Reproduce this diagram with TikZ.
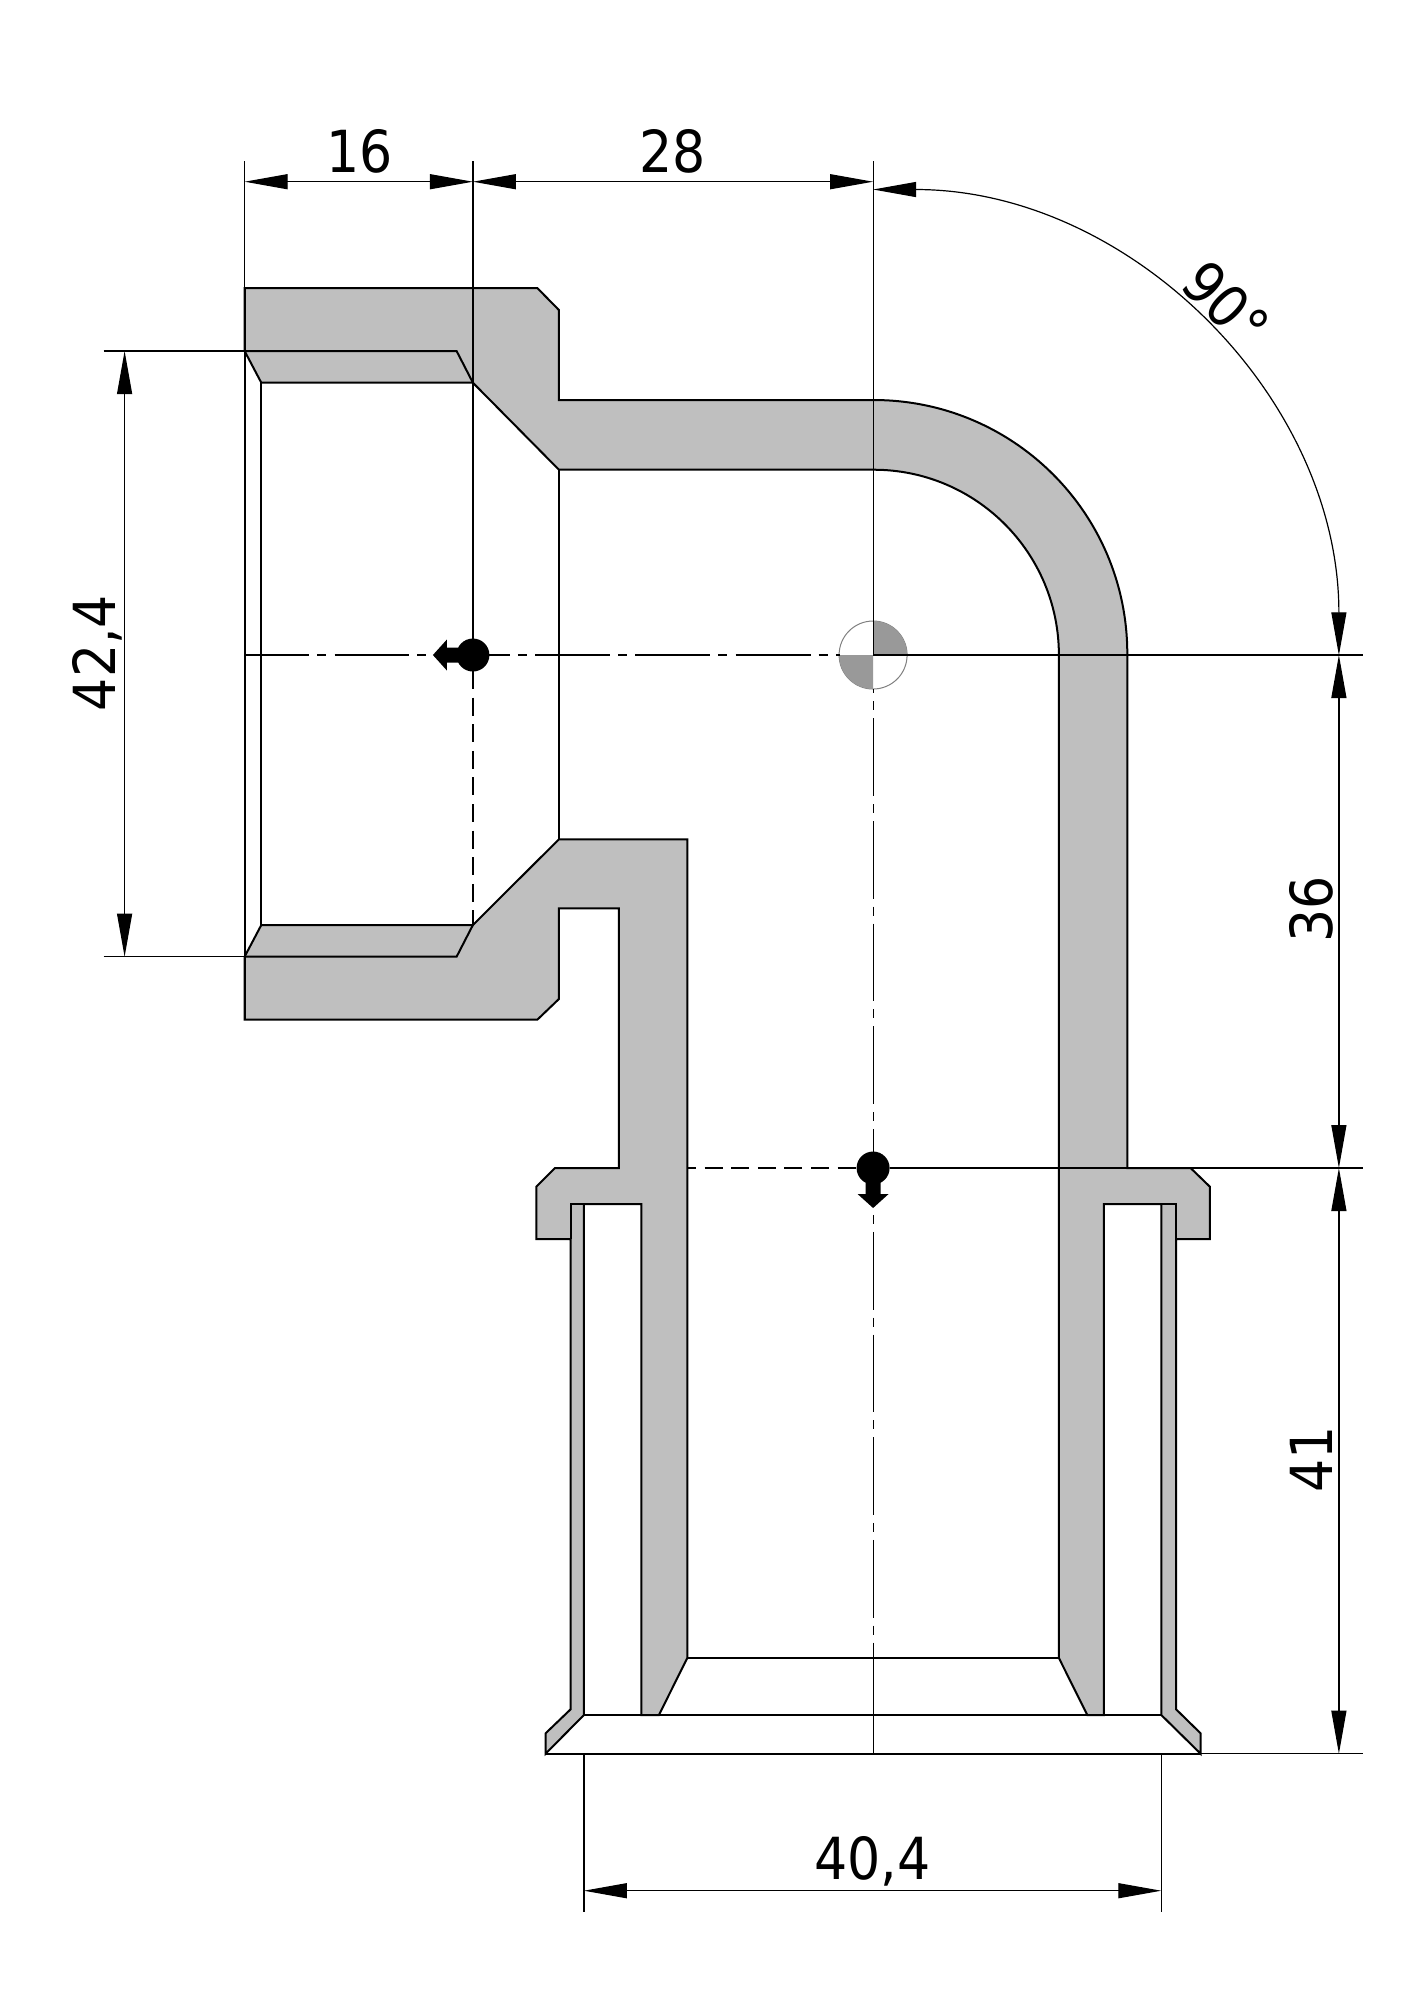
\documentclass[tikz,border=0pt]{standalone}
\usepackage{fontspec}
\setmainfont{DejaVu Sans}[FakeStretch=0.9]
\usetikzlibrary{arrows.meta}
\tikzset{
	partline/.style={line width=0.2mm, color=black},
	partfill/.style={partline, fill=black!25},
	thinline/.style={line width=0.12mm, color=black},
	dimline/.style={thinline, {Triangle[length=4.3mm,width=1.5mm]}-{Triangle[length=4.3mm,width=1.5mm]}},
	dimtext/.style={font=\fontsize{16.5}{18}\selectfont, inner sep=0pt, anchor=base},
}
% black dot with a small arrow, #3 is the direction
\def\forcemark(#1,#2)[#3]{\fill[black, shift={(#1,#2)}, rotate=#3] (0,0) circle (16.5) (0,-7.5) -- (26,-7.5) -- (26,-15.5) -- (40,0) -- (26,15.5) -- (26,7.5) -- (0,7.5) -- cycle;}

\begin{document}
\begin{tikzpicture}[x=0.1mm, y=0.1mm]
		%%%%% START %%%%%
		\useasboundingbox (-0.6, 0) rectangle (1413.4, -2000);
		
		% body with the upper socket
		\draw[partfill] (244, -288) -- (536.7, -288) -- (558.3, -310) -- (558.3, -400) -- (873, -400) arc (90:0:253.7) -- (1126.7, -1168) -- (1190, -1168) -- (1209.3, -1186.7) -- (1209.3, -1239) -- (1175.5, -1239) -- (1175.5, -1709.3) -- (1200, -1733.3) -- (1200, -1753.7) -- (1160.7, -1715) -- (1160.7, -1204) -- (1103.3, -1204) -- (1103.3, -1715) -- (1086.7, -1715) -- (1058.3, -1658) -- (1058.3, -655) arc (0:90:185.3) -- (558.3, -469.7) -- (472.3, -382.7) -- (260.7, -382.7) -- (244, -351) -- cycle;
		
		% lower part
		\draw[partfill] (244, -956.7) -- (260.7, -925) -- (472.3, -925) -- (558.3, -839.3) -- (686.7, -839.3) -- (686.7, -1658) -- (658.3, -1715) -- (640.7, -1715) -- (640.7, -1204) -- (583.3, -1204) -- (583.3, -1715) -- (545, -1753.7) -- (545, -1733.3) -- (570, -1709.3) -- (570, -1239) -- (535.7, -1239) -- (535.7, -1186.7) -- (554.3, -1168) -- (618.3, -1168) -- (618.3, -908.3) -- (558.3, -908.3) -- (558.3, -999) -- (536.7, -1019.7) -- (244, -1019.7) -- cycle;
		
		% edges seen through the bore
		\draw[partline] (244, -288) -- (244, -1019.7);
		\draw[partline] (260.7, -382.7) -- (260.7, -925);
		\draw[partline] (558.3, -469.7) -- (558.3, -839.3);
		\draw[partline] (244, -351) -- (456, -351) -- (472.3, -382.7);
		\draw[partline] (244, -956.7) -- (456, -956.7) -- (472.3, -925);
		\draw[partline] (686.7, -1658) -- (1058.3, -1658);
		\draw[partline] (583.3, -1715) -- (1160.7, -1715);
		\draw[partline] (545, -1753.7) -- (1200, -1753.7);
		
		% sleeve edges under the collars
		\draw[partline] (570, -1239) -- (570, -1204) -- (583.3, -1204);
		\draw[partline] (1175.5, -1239) -- (1175.5, -1204) -- (1160.7, -1204);
		
		% centre symbol
		\draw[line width=0.1mm, color=black!50] (872.5, -655) circle (34);
		\fill[black!40] (872.5, -655) -- (872.5, -621) arc (90:0:34) -- cycle;
		\fill[black!40] (872.5, -655) -- (872.5, -689) arc (270:180:34) -- cycle;
		
		% centre lines
		\draw[thinline, dash pattern=on 7.5mm off 0.8mm on 0.9mm off 0.83mm, dash phase=1.04mm] (244, -655) -- (839, -655);
		\draw[thinline] (872.5, -655) -- (1362, -655);
		\draw[thinline] (872.5, -161) -- (872.5, -655);
		\draw[thinline, dash pattern=on 7.77mm off 0.8mm on 0.9mm off 0.8mm, dash phase=7.34mm] (872.5, -689) -- (872.5, -1715);
		\draw[thinline] (872.5, -1715) -- (872.5, -1753.7);
		\draw[thinline] (472.3, -161) -- (472.3, -655);
		\draw[thinline, dash pattern=on 1.8mm off 0.86mm] (472.3, -671) -- (472.3, -925);
		\draw[thinline, dash pattern=on 1.8mm off 0.86mm, dash phase=0.93mm] (686.7, -1168) -- (856, -1168);
		\draw[thinline] (889, -1168) -- (1362, -1168);
		\forcemark(472.3,-655)[180]
		\forcemark(872.5,-1168)[270]
		
		% extension lines
		\draw[thinline] (244, -161) -- (244, -288);
		\draw[thinline] (103, -351) -- (244, -351);
		\draw[thinline] (103, -956.7) -- (244, -956.7);
		\draw[thinline] (1200, -1753.7) -- (1362, -1753.7);
		\draw[thinline] (583.3, -1753.7) -- (583.3, -1912);
		\draw[thinline] (1160.7, -1753.7) -- (1160.7, -1912);
		
		% dimensions
		\draw[dimline] (244, -181.7) -- (472.3, -181.7);
		\draw[dimline] (472.3, -181.7) -- (872.5, -181.7);
		\draw[dimline] (124, -351) -- (124, -956.7);
		\draw[dimline] (1338.3, -655) -- (1338.3, -1168);
		\draw[dimline] (1338.3, -1168) -- (1338.3, -1753.7);
		\draw[dimline] (583.3, -1890.7) -- (1160.7, -1890.7);
		\draw[dimline] (872.5, -189.5) arc (90:0:465.8);
		
		\node[dimtext] (lenA) at (359, -172) {16};
		\node[dimtext] (lenB) at (672, -172) {28};
		\node[dimtext, rotate=90] (boreA) at (115, -653) {42,4};
		\node[dimtext, rotate=90] (lenC) at (1332, -909) {36};
		\node[dimtext, rotate=90] (lenD) at (1332, -1459) {41};
		\node[dimtext] (boreB) at (872, -1879) {40,4};
		\node[font=\fontsize{16.5}{18}\selectfont, inner sep=0pt, rotate=-45] (angA) at (1225.5, -304) {90°};
		
		%%%%% END %%%%%
	\end{tikzpicture}
\end{document}
